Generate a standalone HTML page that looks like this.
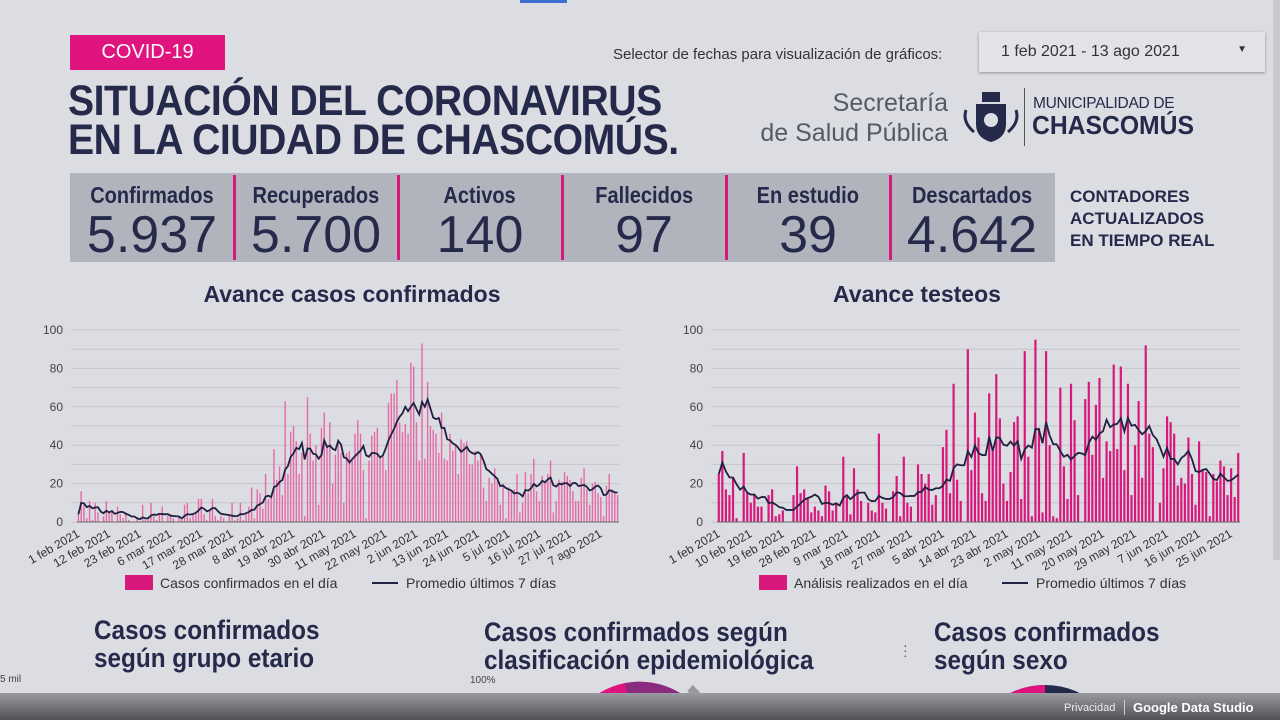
<!DOCTYPE html>
<html><head><meta charset="utf-8">
<style>
*{margin:0;padding:0;box-sizing:border-box}
html,body{overflow:hidden}
body{width:1280px;height:728px;background:#dcdde2;font-family:"Liberation Sans",sans-serif;position:relative;overflow:hidden;color:#262a4a}
.abs{position:absolute}
.cell{position:absolute;top:173px;height:89px;width:164px;text-align:center}
.cell .l{font-weight:bold;font-size:23px;margin-top:9px;display:inline-block;transform:scaleX(.87);white-space:nowrap}
.cell .n{font-size:52px;line-height:52px;margin-top:0px}
.sep{position:absolute;top:175px;width:3px;height:85px;background:#d4187c}
.bt{font-weight:bold;font-size:27px;line-height:28px;transform:scaleX(.9);transform-origin:left top;white-space:nowrap}
</style></head><body>
<div class="abs" style="left:520px;top:0;width:47px;height:3px;background:#3b6fd1"></div>
<div class="abs" style="left:70px;top:35px;width:155px;height:35px;background:#e0147f;color:#fff;font-size:20px;line-height:35px;text-align:center">COVID-19</div>
<div class="abs" style="left:68px;top:82px;font-weight:bold;font-size:43px;line-height:39px;letter-spacing:-0.5px;transform:scaleX(.91);transform-origin:left top;white-space:nowrap">SITUACIÓN DEL CORONAVIRUS<br>EN LA CIUDAD DE CHASCOMÚS.</div>
<div class="abs" style="left:613px;top:46px;font-size:15px;color:#333">Selector de fechas para visualización de gráficos:</div>
<div class="abs" style="left:979px;top:32px;width:286px;height:40px;background:#e2e3e7;box-shadow:0 1px 3px rgba(0,0,0,.35);font-size:16px;color:#333;padding:11px 0 0 22px">1 feb 2021 - 13 ago 2021<span style="position:absolute;right:18px;top:12px;font-size:10px">▼</span></div>
<div class="abs" style="left:740px;top:88px;width:208px;text-align:right;font-size:25px;line-height:30px;color:#555a66">Secretaría<br>de Salud Pública</div>
<svg class="abs" style="left:962px;top:90px" width="58" height="56"><rect x="20" y="2" width="18" height="10" fill="#262a4a"/><path d="M14 14h30v20q0 14-15 18q-15-4-15-18z" fill="#262a4a"/><circle cx="29" cy="30" r="7" fill="#dcdde2"/><path d="M4 20q-4 12 8 22M54 20q4 12-8 22" stroke="#262a4a" stroke-width="3" fill="none"/></svg>
<div class="abs" style="left:1024px;top:88px;width:1px;height:58px;background:#555"></div>
<div class="abs" style="left:1033px;top:95px;font-size:15.5px;color:#262a4a;letter-spacing:-0.3px">MUNICIPALIDAD DE</div>
<div class="abs" style="left:1032px;top:110px;font-size:26px;font-weight:bold;color:#262a4a;transform:scaleX(.95);transform-origin:left top">CHASCOMÚS</div>
<div class="abs" style="left:70px;top:173px;width:985px;height:89px;background:#b2b4bd"></div>
<div class="cell" style="left:70px"><div class="l">Confirmados</div><div class="n">5.937</div></div>
<div class="cell" style="left:234px"><div class="l">Recuperados</div><div class="n">5.700</div></div>
<div class="cell" style="left:398px"><div class="l">Activos</div><div class="n">140</div></div>
<div class="cell" style="left:562px"><div class="l">Fallecidos</div><div class="n">97</div></div>
<div class="cell" style="left:726px"><div class="l">En estudio</div><div class="n">39</div></div>
<div class="cell" style="left:890px"><div class="l">Descartados</div><div class="n">4.642</div></div>
<div class="sep" style="left:233px"></div>
<div class="sep" style="left:397px"></div>
<div class="sep" style="left:561px"></div>
<div class="sep" style="left:725px"></div>
<div class="sep" style="left:889px"></div>
<div class="abs" style="left:1070px;top:186px;font-weight:bold;font-size:17px;line-height:22px">CONTADORES<br>ACTUALIZADOS<br>EN TIEMPO REAL</div>
<div class="abs" style="left:152px;top:281px;width:400px;text-align:center;font-weight:bold;font-size:23px">Avance casos confirmados</div>
<div class="abs" style="left:717px;top:281px;width:400px;text-align:center;font-weight:bold;font-size:23px">Avance testeos</div>
<svg class="abs" id="c1" style="left:0;top:310px" width="640" height="290"></svg>
<svg class="abs" id="c2" style="left:640px;top:310px" width="640" height="290"></svg>
<div class="abs bt" style="left:94px;top:616px">Casos confirmados<br>según grupo etario</div>
<div class="abs bt" style="left:484px;top:618px">Casos confirmados según<br>clasificación epidemiológica</div>
<div class="abs bt" style="left:934px;top:618px">Casos confirmados<br>según sexo</div>
<div class="abs" style="left:903px;top:643px;font-size:14px;color:#555;line-height:5px">·<br>·<br>·</div>
<div class="abs" style="left:0;top:674px;font-size:10px;color:#444">5 mil</div>
<div class="abs" style="left:470px;top:675px;font-size:10px;color:#444">100%</div>
<svg class="abs" style="left:0;top:680px" width="1280" height="48">
<circle cx="640" cy="80" r="78" fill="#262a4a"/><path d="M640 80L562 80A78 78 0 0 1 625 3z" fill="#e0147f"/><path d="M640 80L625 3A78 78 0 0 1 680 13z" fill="#8a2a80"/>
<path d="M690 8A78 78 0 0 1 716 60" stroke="#999" stroke-width="8" fill="none"/>
<text x="646" y="20" font-size="9" fill="#ccc" font-family="Liberation Sans">7,9%</text>
<circle cx="1045" cy="85" r="80" fill="#262a4a"/><path d="M1045 85L965 85A80 80 0 0 1 1045 5z" fill="#e0147f"/></svg>
<div class="abs" style="left:0;top:693px;width:1280px;height:27px;background:linear-gradient(#9a9ba0,#505156)"></div>
<div class="abs" style="left:0;top:720px;width:1280px;height:8px;background:#fff"></div>
<div class="abs" style="left:1064px;top:702px;font-size:11px;color:#eee">Privacidad</div>
<div class="abs" style="left:1124px;top:700px;font-size:13px;color:#fff;font-weight:bold;border-left:1px solid #ccc;padding-left:8px">Google Data Studio</div>
<div class="abs" style="left:1273px;top:0;width:7px;height:560px;background:#c8c9cd"></div>
<script>
const NS='http://www.w3.org/2000/svg';
const confDaily=[4,16,9,2,11,1,10,5,0,3, 11,5,6,0,8,4,2,5,1,0, 0,2,0,9,1,2,10,3,
1,4,8,0,3,4,2,0,3,1, 9,10,2,4,4,12,12,4,1,6, 12,3,1,3,2,0,4,10,1,2,10,
1,4,8,18,2,17,15,7,25,12, 13,38,22,29,14,63,25,47,50,42, 25,36,3,65,46,32,40,9,49,57,
40,52,20,35,43,36,10,36,37,32, 46,53,46,27,2,32,45,47,49,33, 35,27,62,67,67,74,52,47,51,46,83,
81,52,32,93,33,73,50,48,46,36, 57,33,32,46,37,40,25,43,41,42, 30,30,37,32,35,18,11,23,20,28,
22,9,20,2,18,16,17,25,5,10, 26,15,25,33,16,11,24,21,25,32, 5,11,22,21,26,24,22,16,11,11,23,
28,17,9,20,21,15,13,3,19,25,17,16,14];
const confTicks=['1 feb 2021','12 feb 2021','23 feb 2021','6 mar 2021','17 mar 2021','28 mar 2021','8 abr 2021','19 abr 2021','30 abr 2021','11 may 2021','22 may 2021','2 jun 2021','13 jun 2021','24 jun 2021','5 jul 2021','16 jul 2021','27 jul 2021','7 ago 2021'];
const testDaily=[25,37,17,14,23,2,0,36,15,10, 14,8,8,0,14,17,3,4,6,0, 0,14,29,15,17,12,5,8,
6,3,19,16,6,10,0,34,13,4, 28,17,11,0,10,6,5,46,10,7, 0,16,24,3,34,10,8,0,30,25,20,
25,9,14,0,39,48,15,72,22,11, 0,90,27,57,44,15,11,67,38,77, 54,20,11,26,52,55,12,89,34,3,
95,49,5,89,40,3,2,70,29,12, 72,53,14,0,64,73,35,61,75,23, 42,37,82,38,81,27,72,14,40,63,23,
92,46,39,0,10,28,55,52,46,19, 23,20,44,25,9,42,27,26,3,25, 21,32,29,14,28,13,36];
const testTicks=['1 feb 2021','10 feb 2021','19 feb 2021','28 feb 2021','9 mar 2021','18 mar 2021','27 mar 2021','5 abr 2021','14 abr 2021','23 abr 2021','2 may 2021','11 may 2021','20 may 2021','29 may 2021','7 jun 2021','16 jun 2021','25 jun 2021'];
const yTicks=[0,20,40,60,80,100];
function avg7(a){return a.map((v,i)=>{let s=0,n=0;for(let j=Math.max(0,i-6);j<=i;j++){s+=a[j];n++;}return s/n;});}
function mk(p,tag,at){const e=document.createElementNS(NS,tag);for(const k in at)e.setAttribute(k,at[k]);p.appendChild(e);return e;}
function draw(id,data,ticks,step,x0,x1,barW,barCol,legend){
 const svg=document.getElementById(id);const yT=20,yB=212;
 const y=v=>yB-(v/100)*(yB-yT);const bw=(x1-x0)/data.length;const x=i=>x0+bw*(i+0.5);
 for(let g=0;g<=100;g+=10){const l=mk(svg,'line',{x1:x0-6,x2:x1,y1:y(g),y2:y(g),stroke:'#c3c4ca','stroke-width':1});
 
 }
 yTicks.forEach(t=>{const tx=mk(svg,'text',{x:x0-14,y:y(t)+4,'text-anchor':'end','font-size':12,fill:'#444','font-family':'Liberation Sans'});tx.textContent=t;
 
 });
 data.forEach((v,i)=>{const r=mk(svg,'rect',{x:x(i)-barW/2,y:y(v),width:barW,height:yB-y(v),fill:barCol});
 
 });
 const av=avg7(data);
 const pl=mk(svg,'polyline',{points:av.map((v,i)=>x(i)+','+y(v)).join(' '),fill:'none',stroke:'#1f2240','stroke-width':1.8});
 
 
 mk(svg,'line',{x1:x0,x2:x1,y1:yB,y2:yB,stroke:'#666','stroke-width':1});
 ticks.forEach((t,k)=>{const tx=x(k*step)+2;const e=mk(svg,'text',{x:tx,y:yB+14,'text-anchor':'end','font-size':12,fill:'#333','font-family':'Liberation Sans',transform:`rotate(-30 ${tx} ${yB+14})`});e.textContent=t;
 
 });
 const lx=legend[0];
 const lr=mk(svg,'rect',{x:lx,y:265,width:28,height:15,fill:'#d8187c'});
 
 
 const t1=mk(svg,'text',{x:lx+35,y:278,'font-size':14,fill:'#333','font-family':'Liberation Sans'});t1.textContent=legend[1];
 
 
 const ll=mk(svg,'line',{x1:legend[2],x2:legend[2]+26,y1:273,y2:273,stroke:'#1f2240','stroke-width':2});
 
 
 const t2=mk(svg,'text',{x:legend[2]+34,y:278,'font-size':14,fill:'#333','font-family':'Liberation Sans'});t2.textContent='Promedio últimos 7 días';
 
 
}
draw('c1',confDaily,confTicks,11,77,619,1.4,'#e46aa8',[125,'Casos confirmados en el día',372]);
draw('c2',testDaily,testTicks,9,77,600,2.2,'#d8187c',[119,'Análisis realizados en el día',362]);
</script>
</body></html>
